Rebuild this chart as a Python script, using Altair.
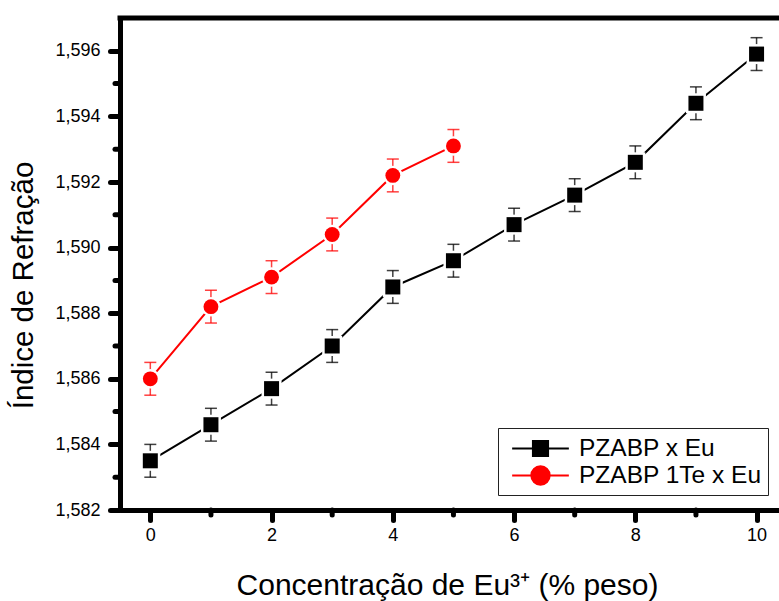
import altair as alt
import pandas as pd

# Refractive index vs Eu3+ concentration for two glass series
conc_pzabp = [0, 1, 2, 3, 4, 5, 6, 7, 8, 9, 10]
n_pzabp = [1.5835, 1.5846, 1.5857, 1.5870, 1.5888, 1.5896, 1.5907, 1.5916, 1.5926, 1.5944, 1.5959]
err_pzabp = [0.0005, 0.0005, 0.0005, 0.0005, 0.0005, 0.0005, 0.0005, 0.0005, 0.0005, 0.0005, 0.0005]

conc_te = [0, 1, 2, 3, 4, 5]
n_te = [1.5860, 1.5882, 1.5891, 1.5904, 1.5922, 1.5931]
err_te = [0.0005, 0.0005, 0.0005, 0.0005, 0.0005, 0.0005]

series_names = ["PZABP x Eu", "PZABP 1Te x Eu"]
series_colors = ["#000000", "#ff0000"]
series_shapes = ["square", "circle"]

x_major = [0, 2, 4, 6, 8, 10]
x_minor = [1, 3, 5, 7, 9]
y_major = [1.582, 1.584, 1.586, 1.588, 1.590, 1.592, 1.594, 1.596]
y_minor = [1.583, 1.585, 1.587, 1.589, 1.591, 1.593, 1.595]

# plot area in pixels; the frame runs on past the right edge of the page
PAD_L, PAD_T = 120, 18
W, H = 659, 492
PAD_B = 601 - PAD_T - H
FONT = "Liberation Sans"


def frame(name, xs, ys, es):
    return pd.DataFrame({
        "series": name,
        "conc": xs,
        "n": ys,
        "lo": [v - e for v, e in zip(ys, es)],
        "hi": [v + e for v, e in zip(ys, es)],
    })


df = pd.concat([
    frame(series_names[0], conc_pzabp, n_pzabp, err_pzabp),
    frame(series_names[1], conc_te, n_te, err_te),
], ignore_index=True)

x_scale = alt.Scale(domain=[-0.5, 10.37], nice=False, zero=False)
y_scale = alt.Scale(domain=[1.582, 1.597], nice=False, zero=False)

x_axis = alt.Axis(
    values=x_major, format="d", grid=False, title="Concentração de Eu³⁺ (% peso)",
    domainColor="black", domainWidth=5, tickColor="black", tickWidth=5,
    tickSize=10, tickCap="round", labelFontSize=18, labelPadding=6,
    labelColor="black", labelFont=FONT, titleFont=FONT, titleFontSize=30,
    titleFontWeight="normal", titleColor="black", titleX=327, titleY=84,
    titleBaseline="alphabetic", titleAlign="center",
)
y_axis = alt.Axis(
    values=y_major, grid=False, title="Índice de Refração",
    labelExpr="replace(format(datum.value, '.3f'), '.', ',')",
    domainColor="black", domainWidth=5, tickColor="black", tickWidth=5,
    tickSize=10, tickCap="round", labelFontSize=18, labelPadding=10,
    labelColor="black", labelFont=FONT, titleFont=FONT, titleFontSize=29.5,
    titleFontWeight="normal", titleColor="black", titleX=-88, titleY=267,
    titleBaseline="alphabetic", titleAlign="center", titleAngle=270,
)

base = alt.Chart(df)
X = alt.X("conc:Q", scale=x_scale, axis=x_axis)
Y = alt.Y("n:Q", scale=y_scale, axis=y_axis)

layers = []
for name, color, shape in zip(series_names, series_colors, series_shapes):
    sub = base.transform_filter(alt.datum.series == name)
    bars = sub.mark_rule(color=color, strokeWidth=1.5, opacity=0.75).encode(
        x="conc:Q", y="lo:Q", y2="hi:Q")
    cap_lo = sub.mark_tick(color=color, orient="horizontal", size=12, thickness=1.5, opacity=0.75).encode(
        x="conc:Q", y="lo:Q")
    cap_hi = sub.mark_tick(color=color, orient="horizontal", size=12, thickness=1.5, opacity=0.75).encode(
        x="conc:Q", y="hi:Q")
    line = sub.mark_line(color=color, strokeWidth=2).encode(x="conc:Q", y="n:Q")
    halo = sub.mark_point(shape=shape, filled=True, color="white", opacity=1,
                          size=(400 if shape == "square" else 380)).encode(x="conc:Q", y="n:Q")
    pts = sub.mark_point(shape=shape, filled=True, color=color, opacity=1,
                         size=(225 if shape == "square" else 220)).encode(x="conc:Q", y="n:Q")
    layers += [bars, cap_lo, cap_hi, line, halo, pts]

# minor ticks drawn outside the plot frame
minor_x = alt.Chart(pd.DataFrame({"conc": x_minor})).mark_rule(
    color="black", strokeWidth=5, strokeCap="round").encode(
    x="conc:Q", y=alt.value(H), y2=alt.value(H + 5))
minor_y = alt.Chart(pd.DataFrame({"n": y_minor})).mark_rule(
    color="black", strokeWidth=5, strokeCap="round").encode(
    y="n:Q", x=alt.value(0), x2=alt.value(-5))

# top edge of the frame
top_edge = alt.Chart(pd.DataFrame({"k": [0]})).mark_rule(
    color="black", strokeWidth=5, strokeCap="square").encode(
    x=alt.value(0), x2=alt.value(W + 10), y=alt.value(0))

# legend symbols: line - marker - line
legend_paths = [
    "M-2.1,0H-0.56M0.56,0H2.1M-0.56,-0.56H0.56V0.56H-0.56Z",
    "M-2.1,0H-0.68M0.68,0H2.1M-0.68,0A0.68,0.68 0 1,0 0.68,0A0.68,0.68 0 1,0 -0.68,0Z",
]
leg = alt.Legend(
    title=None, orient="none", legendX=378, legendY=410,
    labelFont=FONT, labelFontSize=24.5, labelColor="black", labelLimit=400,
    symbolSize=729, symbolStrokeWidth=2, symbolOffset=22, labelOffset=24,
    rowPadding=0, padding=6, strokeColor="#222222", fillColor="white",
    cornerRadius=0, symbolOpacity=1,
)
legend_layer = alt.Chart(pd.DataFrame({"series": series_names})).transform_filter(
    "datum.series == 'none'"
).mark_point(filled=True, strokeWidth=2, opacity=1).encode(
    color=alt.Color("series:N", scale=alt.Scale(domain=series_names, range=series_colors), legend=leg),
    stroke=alt.Stroke("series:N", scale=alt.Scale(domain=series_names, range=series_colors), legend=leg),
    shape=alt.Shape("series:N", scale=alt.Scale(domain=series_names, range=legend_paths), legend=leg),
)

axes_layer = base.mark_point(opacity=0).encode(x=X, y=Y)

chart = alt.layer(axes_layer, *layers, minor_x, minor_y, top_edge, legend_layer).properties(
    width=W, height=H,
    autosize=alt.AutoSizeParams(type="none"),
    padding={"left": PAD_L, "top": PAD_T, "right": 0, "bottom": PAD_B},
).configure_view(
    stroke=None,
).configure(
    background="white",
)

chart.save("out.html", embed_options={"renderer": "svg", "actions": False})
